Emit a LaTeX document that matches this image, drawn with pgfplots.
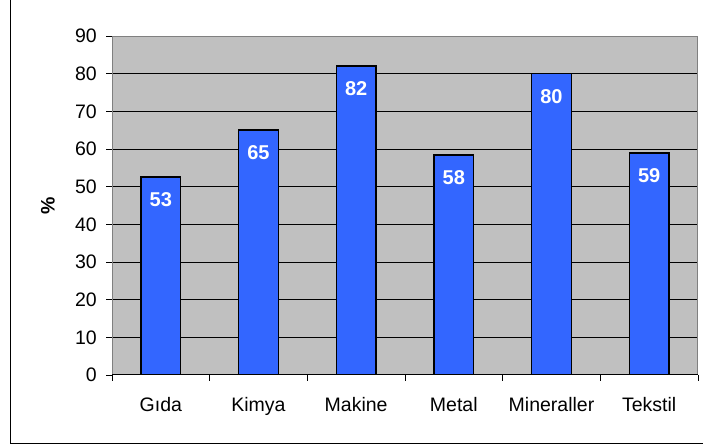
\documentclass[border=0pt]{standalone}
\usepackage{pgfplots}
\pgfplotsset{compat=1.18}
\usepackage{fontspec}
\setmainfont{Liberation Sans}
\definecolor{plotgray}{HTML}{C0C0C0}
\definecolor{barblue}{HTML}{3366FF}
\definecolor{edgegray}{HTML}{808080}
\begin{document}
\begin{tikzpicture}
\useasboundingbox (0,0) rectangle (703bp,448bp);
\draw[black, line width=1bp] (10.5bp,448bp) -- (10.5bp,4bp) -- (703bp,4bp);
\begin{axis}[
    at={(112bp,73bp)}, anchor=south west,
    scale only axis, width=586bp, height=339bp,
    xmin=0.5, xmax=6.5, ymin=0, ymax=90,
    ytick={0,10,...,90},
    xtick={1,...,6},
    xticklabels={Gıda, Kimya, Makine, Metal, Mineraller, Tekstil},
    minor xtick={0.5,1.5,...,6.5},
    major x tick style={draw=none},
    tick align=outside, tick pos=left,
    major tick length=6bp, minor tick length=6bp,
    tick style={black, line width=0.8bp},
    ymajorgrids, grid style={black, line width=1bp},
    axis background/.style={fill=plotgray},
    axis line style={edgegray, line width=1bp},
    font=\fontsize{19.5bp}{22bp}\selectfont,
    /pgf/number format/assume math mode=true,
    xticklabel style={anchor=base, inner sep=0pt, yshift=-30.7bp},
    yticklabel style={anchor=east, inner sep=0pt, xshift=-9bp},
    ylabel={\bfseries\%},
    every axis y label/.style={at={(axis description cs:-0.1092,0.5)}, rotate=90, anchor=center},
    ybar, bar width=39.5bp,
    point meta=explicit symbolic,
    nodes near coords,
    every node near coord/.append style={anchor=center, yshift=-22.5bp, text=white, font=\fontsize{20bp}{22bp}\selectfont\bfseries},
]
\addplot[fill=barblue, draw=black, line width=1.5bp] coordinates {
    (1,52.6) [53]
    (2,65.0) [65]
    (3,82.0) [82]
    (4,58.4) [58]
    (5,80.0) [80]
    (6,59.0) [59]
};
\draw[black, line width=1.2bp] (rel axis cs:0,0) -- (rel axis cs:1,0);
\end{axis}
\end{tikzpicture}
\end{document}
